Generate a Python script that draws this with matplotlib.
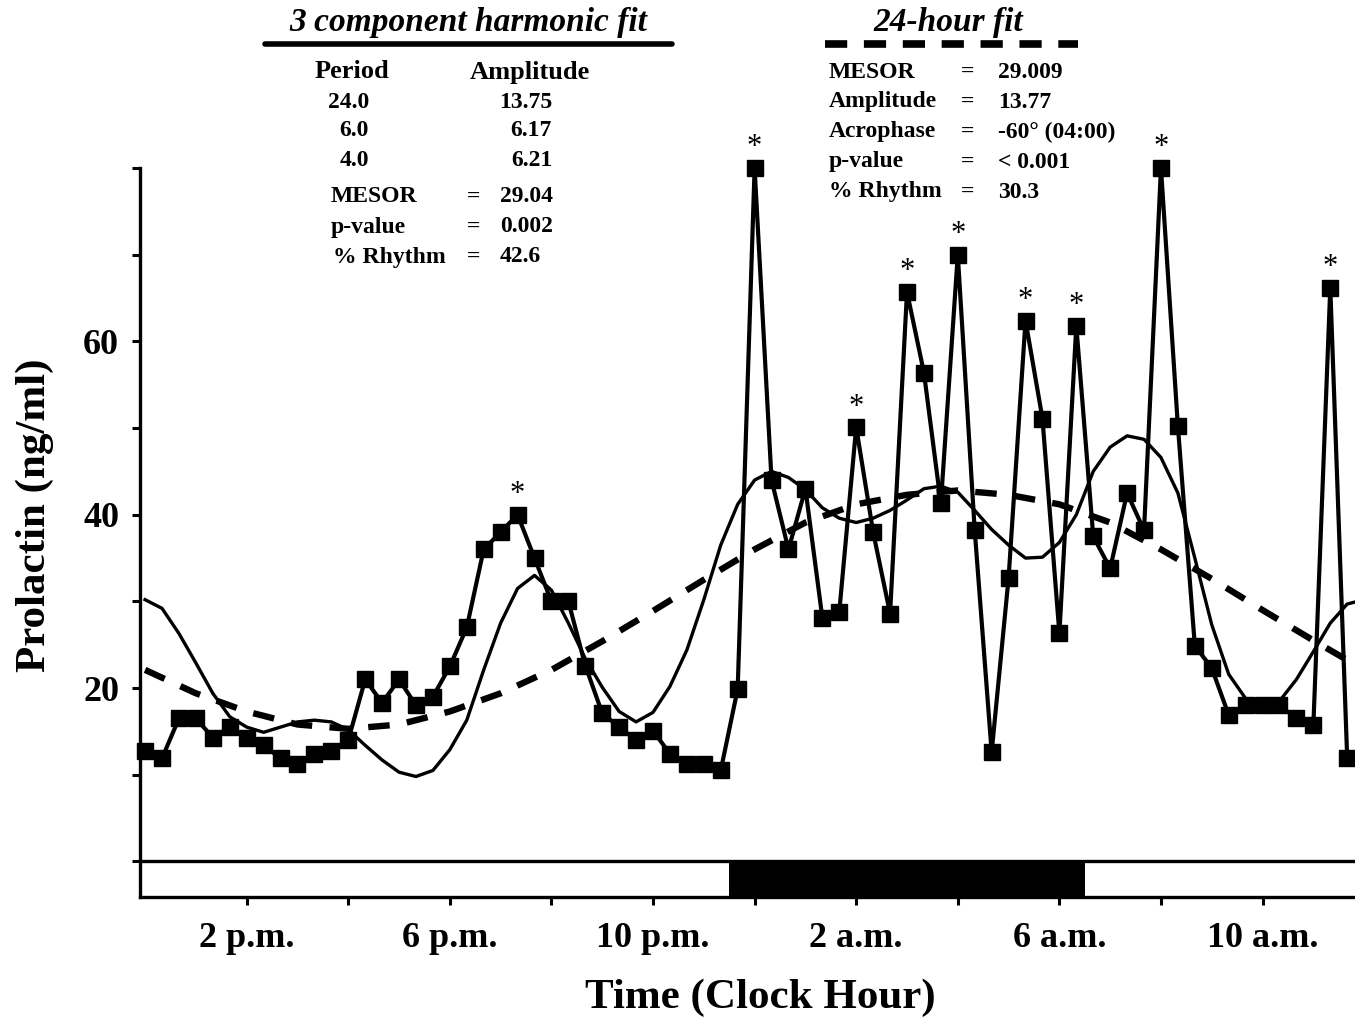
import matplotlib
matplotlib.use('Agg')
import matplotlib.pyplot as plt
from matplotlib.lines import Line2D
import numpy as np

W, H = 1355, 1019
plt.rcParams['font.family'] = ['Liberation Serif', 'DejaVu Serif']
plt.rcParams['lines.scale_dashes'] = False

# ---------------- data (hours after 12:00 noon) ----------------
sample_step_h = 1 / 3  # 20-min sampling
prolactin = [12.8, 11.9, 16.5, 16.5, 14.3, 15.5, 14.3, 13.4, 11.9, 11.3,
             12.4, 12.8, 14.0, 21.0, 18.3, 21.0, 18.0, 19.0, 22.5, 27.0,
             36.0, 38.0, 40.0, 35.0, 30.0, 30.0, 22.6, 17.1, 15.5, 14.0,
             15.1, 12.4, 11.3, 11.3, 10.5, 19.9, 80.0, 44.0, 36.0, 43.0,
             28.1, 28.8, 50.1, 38.0, 28.6, 65.7, 56.4, 41.3, 70.0, 38.2,
             12.6, 32.7, 62.4, 51.1, 26.3, 61.8, 37.5, 33.8, 42.5, 38.2,
             80.0, 50.2, 24.9, 22.3, 16.9, 18.0, 18.0, 18.0, 16.5, 15.7,
             66.2, 11.9]
significant_idx = [22, 36, 42, 45, 48, 52, 55, 60, 70]

# 3-component harmonic fit, every 20 min
harmonic_fit = [30.2, 29.2, 26.3, 22.9, 19.4, 16.7, 15.5, 14.9, 15.5, 16.1,
                16.3, 16.1, 15.2, 13.4, 11.7, 10.3, 9.8, 10.5, 12.9, 16.3,
                22.1, 27.5, 31.5, 33.0, 31.3, 27.5, 23.4, 20.1, 17.3, 16.1,
                17.2, 20.2, 24.4, 30.2, 36.5, 41.2, 44.0, 45.0, 44.3, 42.9,
                40.8, 39.6, 39.1, 39.6, 40.5, 41.7, 43.0, 43.3, 42.6, 40.5,
                38.3, 36.5, 35.0, 35.1, 36.8, 40.0, 45.0, 47.8, 49.1, 48.7,
                46.6, 42.5, 35.0, 27.3, 21.6, 18.8, 18.2, 18.5, 21.0, 24.2,
                27.5, 29.7, 30.2]
# 24-hour cosinor fit, every hour
cosinor_fit = [22.1, 19.4, 17.3, 15.8, 15.3, 15.8, 17.3, 19.4, 22.1, 25.4,
               28.9, 32.5, 36.0, 39.1, 41.2, 42.3, 42.8, 42.3, 41.2, 39.1,
               36.0, 32.6, 29.0, 25.5, 22.1]

lights_off_h = 11.5   # 23:30
lights_on_h = 18.5    # 06:30

x_tick_pos = [2, 4, 6, 8, 10, 12, 14, 16, 18, 20, 22]
x_tick_lab = ['2 p.m.', '', '6 p.m.', '', '10 p.m.', '', '2 a.m.', '', '6 a.m.', '', '10 a.m.']
y_tick_pos = [0, 10, 20, 30, 40, 50, 60, 70, 80]
y_tick_lab = ['', '', '20', '', '40', '', '60', '', '']

harm_periods = ['24.0', '6.0', '4.0']
harm_amps = ['13.75', '6.17', '6.21']
harm_stats_lab = ['MESOR', 'p-value', '% Rhythm']
harm_stats_val = ['29.04', '0.002', '42.6']
cos_stats_lab = ['MESOR', 'Amplitude', 'Acrophase', 'p-value', '% Rhythm']
cos_stats_val = ['29.009', '13.77', '-60\u00b0 (04:00)', '< 0.001', '30.3']

# ---------------- figure ----------------
fig = plt.figure(figsize=(W / 100, H / 100), dpi=100)
ax = fig.add_axes([140 / W, 1 - 897 / H, (W - 140) / W, (897 - 168) / H])

t_data = np.arange(len(prolactin)) * sample_step_h
t_harm = np.arange(len(harmonic_fit)) * sample_step_h
t_cos = np.arange(len(cosinor_fit)) * 1.0

ax.plot(t_cos, cosinor_fit, color='black', lw=4.6, dashes=(15.5, 12.5),
        solid_capstyle='butt', zorder=3)
ax.plot(t_harm, harmonic_fit, color='black', lw=2.4, zorder=4)
ax.plot(t_data, prolactin, color='black', lw=3.0, marker='s', ms=11,
        clip_on=False, zorder=5)

for i in significant_idx:
    ax.annotate('*', (t_data[i], prolactin[i]), xytext=(0, 9),
                textcoords='offset points', ha='center', va='baseline',
                fontsize=22, annotation_clip=False)

ylo = -4.1
ax.set_xlim(-0.1, 23.82)
ax.set_ylim(ylo, 80)
ax.axhline(0, color='black', lw=2.4, zorder=6)
ax.fill_between([lights_off_h, lights_on_h], ylo, 0, color='black', lw=0, zorder=2)

for s in ['top', 'right']:
    ax.spines[s].set_visible(False)
for s in ['left', 'bottom']:
    ax.spines[s].set_linewidth(2.4)

ax.set_xticks(x_tick_pos)
ax.set_xticklabels(x_tick_lab, fontsize=26, fontweight='bold')
ax.set_yticks(y_tick_pos)
ax.set_yticklabels(y_tick_lab, fontsize=26, fontweight='bold')
ax.tick_params(axis='both', direction='out', length=6, width=2.2)
ax.tick_params(axis='x', pad=12)
ax.tick_params(axis='y', pad=9)

fig.text(760 / W, 1 - 998 / H, 'Time (Clock Hour)', ha='center', va='center',
         fontsize=31, fontweight='bold')
fig.text(35 / W, 1 - 515 / H, 'Prolactin (ng/ml)', ha='center', va='center',
         rotation=90, fontsize=31, fontweight='bold')

def fx(x):
    return x / W

def fy(y):
    return 1 - y / H

# headers
fig.text(fx(468), fy(22), '3 component harmonic fit', ha='center', va='center',
         fontsize=24, fontweight='bold', style='italic')
fig.add_artist(Line2D([fx(265), fx(672)], [fy(44), fy(44)], color='black', lw=4,
                      solid_capstyle='round', transform=fig.transFigure))
fig.text(fx(948), fy(22), '24-hour fit', ha='center', va='center',
         fontsize=24, fontweight='bold', style='italic')
fig.add_artist(Line2D([fx(825), fx(1078)], [fy(44), fy(44)], color='black', lw=5.5,
                      dashes=(16, 12), transform=fig.transFigure))

fs = 17
fig.text(fx(315), fy(72), 'Period', ha='left', va='center', fontsize=19, fontweight='bold')
fig.text(fx(470), fy(72), 'Amplitude', ha='left', va='center', fontsize=19, fontweight='bold')
for k, (p, a) in enumerate(zip(harm_periods, harm_amps)):
    yy = [102, 131, 161][k]
    fig.text(fx(369), fy(yy), p, ha='right', va='center', fontsize=fs, fontweight='bold')
    fig.text(fx(552), fy(yy), a, ha='right', va='center', fontsize=fs, fontweight='bold')
for k, (lab, val) in enumerate(zip(harm_stats_lab, harm_stats_val)):
    yy = [197, 227, 257][k]
    fig.text(fx(331 if k < 2 else 333), fy(yy), lab, ha='left', va='center', fontsize=fs, fontweight='bold')
    fig.text(fx(474), fy(yy), '=', ha='center', va='center', fontsize=fs, fontweight='bold')
    fig.text(fx(500), fy(yy), val, ha='left', va='center', fontsize=fs, fontweight='bold')
for k, (lab, val) in enumerate(zip(cos_stats_lab, cos_stats_val)):
    yy = 72 + 30 * k
    fig.text(fx(829), fy(yy), lab, ha='left', va='center', fontsize=fs, fontweight='bold')
    fig.text(fx(968), fy(yy), '=', ha='center', va='center', fontsize=fs, fontweight='bold')
    fig.text(fx(998), fy(yy), val, ha='left', va='center', fontsize=fs, fontweight='bold')

fig.savefig('out.png', dpi=100)
